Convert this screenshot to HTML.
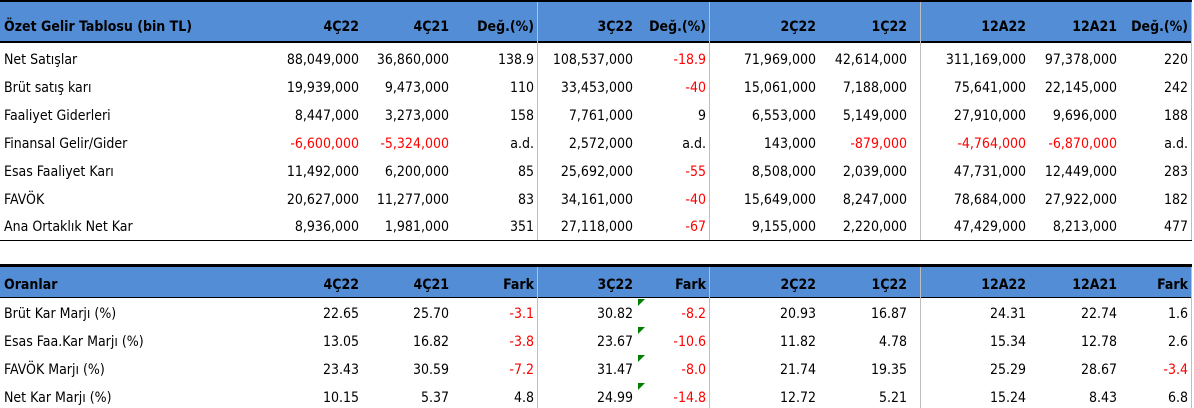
<!DOCTYPE html>
<html><head><meta charset="utf-8"><style>
body{margin:0;width:1194px;height:408px;background:#fff;position:relative;overflow:hidden;font-family:Tahoma,"DejaVu Sans Condensed","Liberation Sans",sans-serif;font-size:14px;color:#000}
.band{position:absolute;left:0;width:1192px;background:#538dd5}
.hl{position:absolute;left:0;width:1192px;background:#000}
.vl{position:absolute;width:1px;background:#bfbfbf}
.c{position:absolute;white-space:nowrap;line-height:18px}
.r{text-align:right}
.b{font-weight:bold}
.red{color:#ff0000}
.tri{position:absolute;width:0;height:0;border-top:7px solid #008000;border-right:7px solid transparent}
</style></head><body>
<div class="band" style="top:2px;height:40px"></div>
<div class="hl" style="top:0;height:2px"></div>
<div class="hl" style="top:41px;height:2px"></div>
<div class="hl" style="top:240px;height:1px"></div>
<div class="band" style="top:267px;height:30px"></div>
<div class="hl" style="top:264px;height:3px"></div>
<div class="hl" style="top:297px;height:1px"></div>
<div class="vl" style="left:537px;top:2px;height:238px"></div>
<div class="vl" style="left:709px;top:2px;height:238px"></div>
<div class="vl" style="left:920px;top:2px;height:238px"></div>
<div class="vl" style="left:1191px;top:2px;height:238px"></div>
<div class="vl" style="left:537px;top:267px;height:141px"></div>
<div class="vl" style="left:709px;top:267px;height:141px"></div>
<div class="vl" style="left:920px;top:267px;height:141px"></div>
<div class="vl" style="left:1191px;top:267px;height:141px"></div>
<div id="t"></div>
<script>
const rights=[359,449,534,633,706,816,907,1026,1117,1188];
const head1=["Özet Gelir Tablosu (bin TL)","4Ç22","4Ç21","Değ.(%)","3Ç22","Değ.(%)","2Ç22","1Ç22","12A22","12A21","Değ.(%)"];
const rows1=[
["Net Satışlar","88,049,000","36,860,000","138.9","108,537,000","-18.9","71,969,000","42,614,000","311,169,000","97,378,000","220"],
["Brüt satış karı","19,939,000","9,473,000","110","33,453,000","-40","15,061,000","7,188,000","75,641,000","22,145,000","242"],
["Faaliyet Giderleri","8,447,000","3,273,000","158","7,761,000","9","6,553,000","5,149,000","27,910,000","9,696,000","188"],
["Finansal Gelir/Gider","-6,600,000","-5,324,000","a.d.","2,572,000","a.d.","143,000","-879,000","-4,764,000","-6,870,000","a.d."],
["Esas Faaliyet Karı","11,492,000","6,200,000","85","25,692,000","-55","8,508,000","2,039,000","47,731,000","12,449,000","283"],
["FAVÖK","20,627,000","11,277,000","83","34,161,000","-40","15,649,000","8,247,000","78,684,000","27,922,000","182"],
["Ana Ortaklık Net Kar","8,936,000","1,981,000","351","27,118,000","-67","9,155,000","2,220,000","47,429,000","8,213,000","477"]];
const head2=["Oranlar","4Ç22","4Ç21","Fark","3Ç22","Fark","2Ç22","1Ç22","12A22","12A21","Fark"];
const rows2=[
["Brüt Kar Marjı (%)","22.65","25.70","-3.1","30.82","-8.2","20.93","16.87","24.31","22.74","1.6"],
["Esas Faa.Kar Marjı (%)","13.05","16.82","-3.8","23.67","-10.6","11.82","4.78","15.34","12.78","2.6"],
["FAVÖK Marjı (%)","23.43","30.59","-7.2","31.47","-8.0","21.74","19.35","25.29","28.67","-3.4"],
["Net Kar Marjı (%)","10.15","5.37","4.8","24.99","-14.8","12.72","5.21","15.24","8.43","6.8"]];
const T=document.getElementById('t');
function cell(txt,i,y,cls){
  const d=document.createElement('div');
  d.className='c '+cls+(i>0?' r':'');
  if(i===0){d.style.left='4px';}else{d.style.right=(1194-rights[i-1])+'px';}
  d.style.top=(y-9)+'px';
  if(i>0&&txt.startsWith('-'))d.className+=' red';
  d.textContent=txt;
  
  
  T.appendChild(d);
}
head1.forEach((h,i)=>cell(h,i,27,'b'));
rows1.forEach((r,k)=>r.forEach((v,i)=>cell(v,i,60+k*27.9,'')));
head2.forEach((h,i)=>cell(h,i,285,'b'));
rows2.forEach((r,k)=>{r.forEach((v,i)=>cell(v,i,314+k*27.9,''));
  const t=document.createElement('div');t.className='tri';
  t.style.left='638px';t.style.top=(299+k*27.9)+'px';
  
  
  T.appendChild(t);});
</script>
</body></html>
